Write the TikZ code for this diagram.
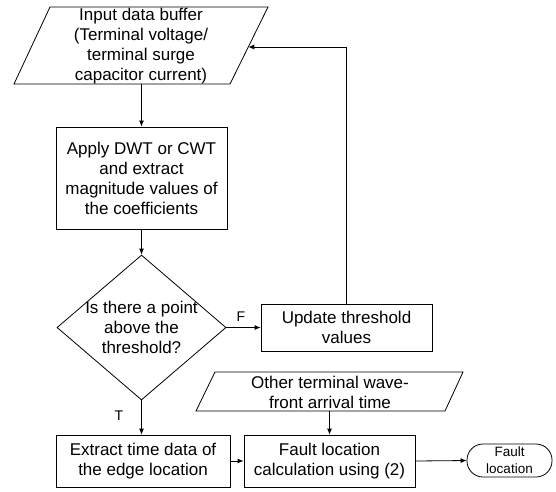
\documentclass[tikz,border=0pt]{standalone}
\usepackage{fontspec}
\setmainfont{Liberation Sans}
\usetikzlibrary{shapes.geometric,arrows.meta}
\begin{document}
\begin{tikzpicture}[x=1pt,y=-1pt,
  every node/.style={font=\fontsize{17}{20}\selectfont, align=center, inner sep=0pt},
  shp/.style={draw, line width=0.8pt},
  proc/.style={shp, minimum width=#1},
  arr/.style={-{Latex[length=6pt,width=5pt]}, line width=0.8pt},
  lbl/.style={font=\fontsize{14}{16}\selectfont}]
\useasboundingbox (0,0) rectangle (556,491);
% input parallelogram
\draw[shp] (50,7) -- (268,7) -- (230,84) -- (14,84) -- cycle;
\node (in) at (141,46) {Input data buffer\\(Terminal voltage/\\terminal surge\\capacitor current)};
\coordinate (inB) at (141.5,84);
\coordinate (inR) at (248.3,47);
% DWT box
\node[proc=171pt, minimum height=102pt] (dwt) at (141.5,178) {Apply DWT or CWT\\and extract\\magnitude values of\\the coefficients};
% decision
\node[diamond, shp, minimum width=169pt, minimum height=145pt, inner sep=0pt] (dec) at (141.5,327.5) {};
\node at (dec.center) {Is there a point\\above the\\threshold?};
% update
\node[proc=171pt, minimum height=47pt] (upd) at (346.5,327.5) {Update threshold\\values};
% other terminal parallelogram
\draw[shp] (215,372) -- (463,372) -- (445,411) -- (196,411) -- cycle;
\node (oth) at (330,392) {Other terminal wave-\\front arrival time};
\coordinate (othB) at (329.5,411);
% bottom row
\node[proc=174pt, minimum height=52pt] (ext) at (143,461) {Extract time data of\\the edge location};
\node[proc=171pt, minimum height=52pt] (flc) at (329.5,461) {Fault location\\calculation using (2)};
\node[shp, rounded corners=16pt, minimum width=85pt, minimum height=33pt, font=\fontsize{13.5}{17}\selectfont] (out) at (509.5,460.5) {Fault\\location};
% labels
\node[lbl] (fl) at (241,317) {F};
\node[lbl] (tl) at (119,416) {T};
% connectors
\draw[arr] (inB) -- (dwt.north);
\draw[arr] (dwt.south) -- (dec.north);
\draw[arr] (dec.east) -- (upd.west);
\draw[arr] (upd.north) |- (inR);
\draw[arr] (dec.south) -- (ext.north -| dec.south);
\draw[arr] (ext.east) -- (flc.west);
\draw[arr] (othB) -- (flc.north);
\draw[arr] (flc.east) -- (out.west);
\end{tikzpicture}
\end{document}
